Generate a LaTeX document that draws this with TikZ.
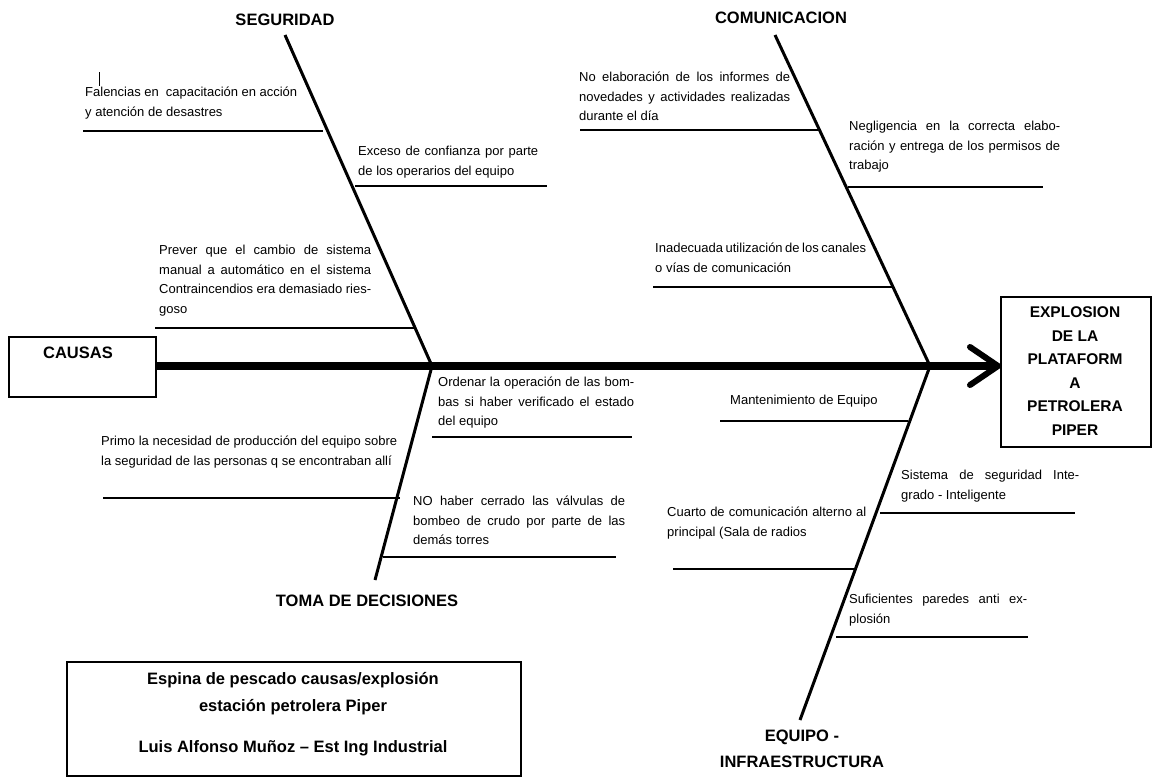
\documentclass[tikz,border=0pt]{standalone}
\usepackage{fontspec}
\setmainfont{Liberation Sans}
\begin{document}
\begin{tikzpicture}[x=1pt,y=-1pt,
  bone/.style={line width=3pt},
  branch/.style={line width=2pt},
  txt/.style={anchor=north west,inner sep=0pt,align=justify,font=\fontsize{13}{19.5}\selectfont},
  lbl/.style={font=\bfseries\fontsize{16.5}{26}\selectfont,align=center},
  box/.style={draw,line width=2pt}]
\useasboundingbox (0,0) rectangle (1164,782);
% boxes
\node[box,minimum width=147pt,minimum height=60pt,anchor=north west] (causas) at (8,336) {};
\node[lbl] at (78,353) {CAUSAS};
\node[box,minimum width=150pt,minimum height=150pt,anchor=north west] (efecto) at (1000,296) {};
\node[font=\bfseries\fontsize{15.5}{23.5}\selectfont,align=center] at (1075,371) {EXPLOSION\\DE LA\\PLATAFORM\\A\\PETROLERA\\PIPER};
% spine
\coordinate (s1) at (432,366); \coordinate (s2) at (930,366);
\draw[line width=8pt] (causas.east |- s1) -- (993,366);
\draw[line width=6pt,line cap=round,line join=round] (970,347) -- (998,366) -- (970,385);
% bones
\draw[bone] (285,35) -- (s1);
\draw[bone] (775,35) -- (s2);
\draw[bone] (s1) -- (375,580);
\draw[bone] (s2) -- (800,720);
\node[lbl] at (285,20) {SEGURIDAD};
\node[lbl] at (781,18) {COMUNICACION};
\node[lbl] at (367,601) {TOMA DE DECISIONES};
\node[lbl] at (802,749) {EQUIPO -\\INFRAESTRUCTURA};
\draw[line width=0.8pt] (99,72) -- (99,86);
% branches
\draw[branch] (83,131) -- (323,131);
\node[txt,text width=212pt] at (85,87) {Falencias en \ capacitación en acción y atención de desastres};
\draw[branch] (355,186) -- (547,186);
\node[txt,text width=180pt] at (358,146) {Exceso de confianza por parte de los operarios del equipo};
\draw[branch] (155,328) -- (415,328);
\node[txt,text width=212pt] at (159,245) {Prever que el cambio de sistema manual a automático en el sistema Contraincendios era demasiado riesgoso};
\draw[branch] (580,130) -- (818,130);
\node[txt,text width=211pt] at (579,72) {No elaboración de los informes de novedades y actividades realizadas durante el día};
\draw[branch] (848,187) -- (1043,187);
\node[txt,text width=211pt] at (849,121) {Negligencia en la correcta elaboración y entrega de los permisos de trabajo};
\draw[branch] (653,287) -- (892,287);
\node[txt,text width=211pt] at (655,243) {Inadecuada utilización de los canales o vías de comunicación};
\draw[branch] (432,437) -- (632,437);
\node[txt,text width=196pt] at (438,377) {Ordenar la operación de las bombas si haber verificado el estado del equipo};
\draw[branch] (103,498) -- (400,498);
\node[txt,text width=296pt] at (101,436) {Primo la necesidad de producción del equipo sobre la seguridad de las personas q se encontraban allí};
\draw[branch] (383,557) -- (616,557);
\node[txt,text width=212pt] at (413,496) {NO haber cerrado las válvulas de bombeo de crudo por parte de las demás torres};
\draw[branch] (720,421) -- (908,421);
\node[txt] at (730,395) {Mantenimiento de Equipo};
\draw[branch] (880,513) -- (1075,513);
\node[txt,text width=178pt] at (901,470) {Sistema de seguridad Integrado - Inteligente};
\draw[branch] (673,569) -- (857,569);
\node[txt,text width=199pt] at (667,507) {Cuarto de comunicación alterno al principal (Sala de radios};
\draw[branch] (836,637) -- (1028,637);
\node[txt,text width=178pt] at (849,594) {Suficientes paredes anti explosión};
% footer
\node[box,minimum width=454pt,minimum height=114pt,anchor=north west] (pie) at (66,661) {};
\node[font=\bfseries\fontsize{16.5}{27}\selectfont,align=center] at (293,694) {Espina de pescado causas/explosión\\estación petrolera Piper};
\node[font=\bfseries\fontsize{16.5}{27}\selectfont] at (293,748) {Luis Alfonso Muñoz – Est Ing Industrial};
\end{tikzpicture}
\end{document}
